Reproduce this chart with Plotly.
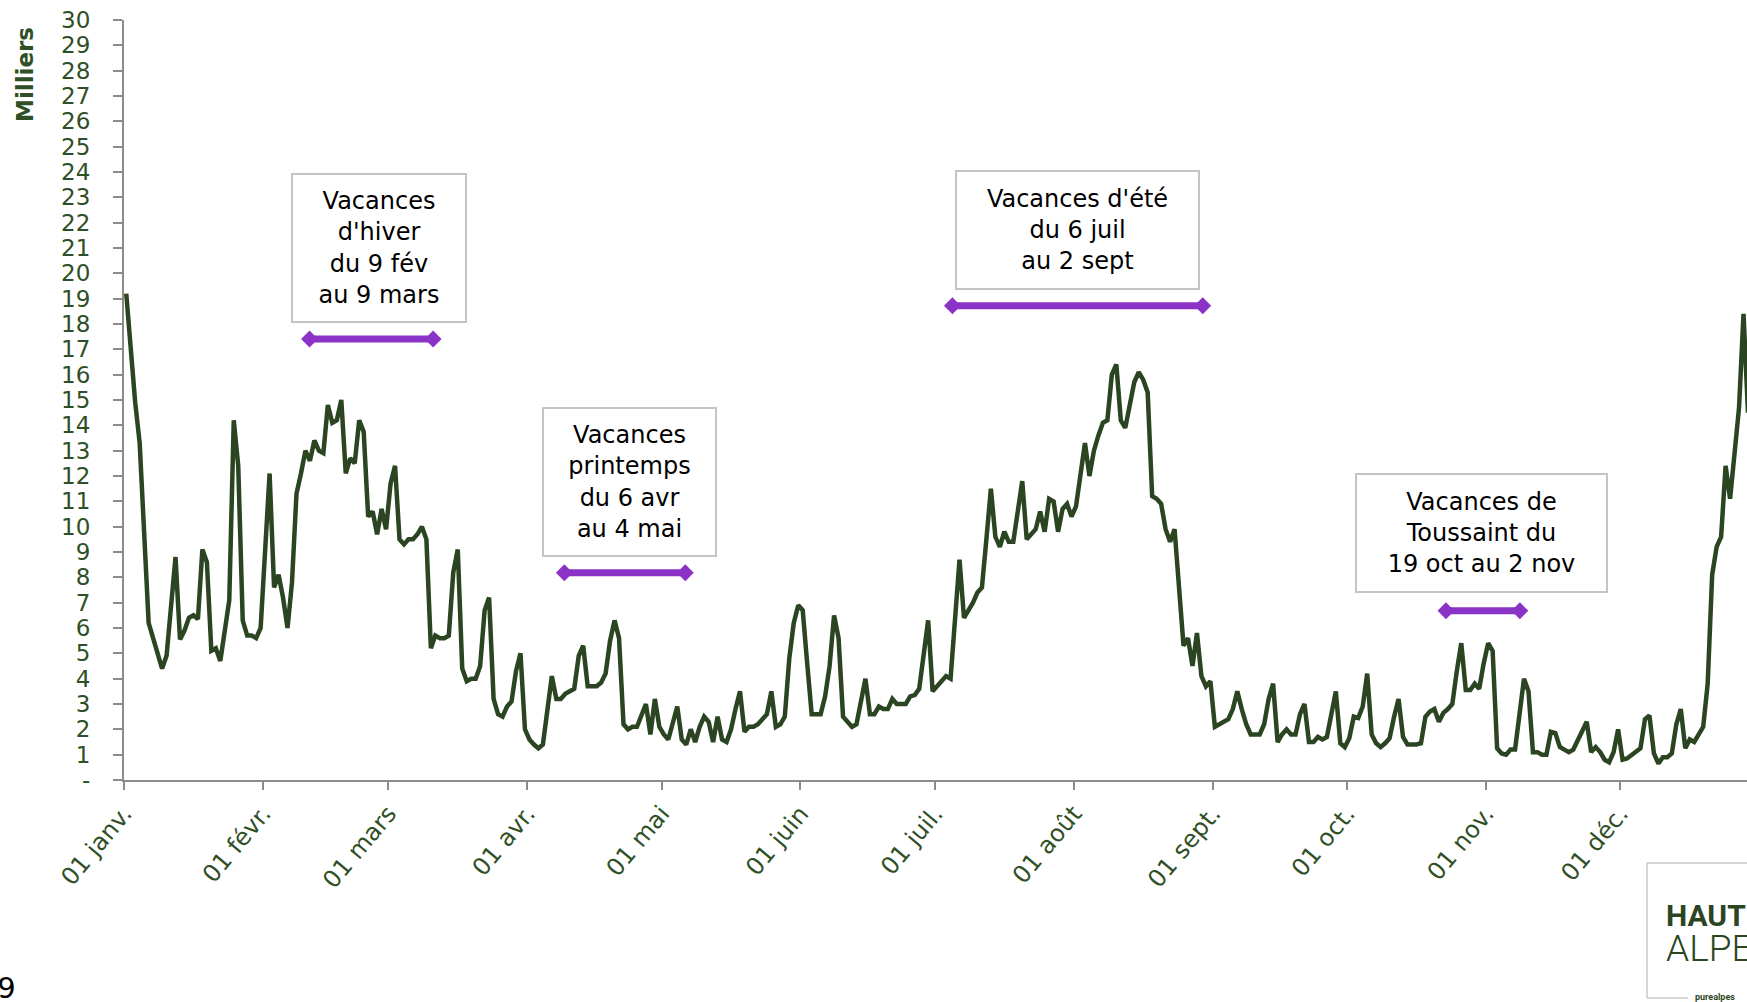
import pandas as pd
import plotly.graph_objects as go

# ---------------- data (thousands of visitors, daily 2019) ----------------
jan = [19.2, 16.9, 14.9, 13.3, 10.0, 6.2, 5.6, 5.0, 4.4, 4.9,
       6.8, 8.8, 5.55, 5.9, 6.4, 6.5, 6.35, 9.1, 8.6, 5.1,
       5.2, 4.7, 5.9, 7.1, 14.2, 12.4, 6.3, 5.7, 5.7, 5.6, 6.0]
feb = [8.9, 12.1, 7.6, 8.1, 7.2, 6.0, 7.8, 11.3, 12.1, 13.0,
       12.6, 13.4, 13.0, 12.9, 14.8, 14.1, 14.2, 15.0, 12.1, 12.7,
       12.5, 14.2, 13.75, 10.4, 10.6, 9.7, 10.7, 9.9]
mar = [11.7, 12.4, 9.5, 9.3, 9.5, 9.5, 9.7, 10.0, 9.5, 5.2,
       5.7, 5.6, 5.6, 5.7, 8.2, 9.1, 4.4, 3.9, 4.0, 4.0,
       4.5, 6.7, 7.2, 3.2, 2.6, 2.5, 2.9, 3.1, 4.3, 5.0, 2.0]
apr = [1.6, 1.4, 1.25, 1.4, 2.7, 4.1, 3.2, 3.2, 3.4, 3.5,
       3.6, 4.9, 5.3, 3.7, 3.7, 3.7, 3.85, 4.2, 5.5, 6.3,
       5.6, 2.2, 2.0, 2.1, 2.1, 2.6, 3.0, 1.8, 3.2, 2.1]
may = [1.8, 1.6, 2.3, 2.9, 1.6, 1.4, 2.0, 1.5, 2.1, 2.5,
       2.3, 1.5, 2.5, 1.6, 1.5, 2.0, 2.8, 3.5, 1.9, 2.1,
       2.1, 2.2, 2.4, 2.6, 3.5, 2.1, 2.2, 2.5, 4.8, 6.2, 6.9]
jun = [6.7, 4.6, 2.6, 2.6, 2.6, 3.3, 4.5, 6.5, 5.6, 2.5,
       2.3, 2.1, 2.2, 3.2, 4.0, 2.6, 2.6, 2.9, 2.8, 2.8,
       3.2, 3.0, 3.0, 3.0, 3.3, 3.35, 3.6, 5.0, 6.3, 3.5]
jul = [3.7, 3.9, 4.1, 4.0, 6.6, 8.7, 6.4, 6.7, 7.0, 7.4,
       7.6, 9.5, 11.5, 9.6, 9.2, 9.8, 9.4, 9.4, 10.5, 11.8,
       9.5, 9.7, 9.9, 10.6, 9.8, 11.1, 11.0, 9.8, 10.7, 10.9, 10.4]
aug = [10.8, 12.2, 13.3, 12.0, 13.0, 13.6, 14.1, 14.2, 16.0, 16.4,
       14.2, 13.9, 14.8, 15.7, 16.1, 15.8, 15.3, 11.2, 11.1, 10.9,
       9.9, 9.4, 9.9, 7.8, 5.3, 5.6, 4.5, 5.8, 4.1, 3.7, 3.9]
sep = [2.1, 2.2, 2.35, 2.4, 2.8, 3.5, 2.8, 2.2, 1.8, 1.8,
       1.8, 2.2, 3.2, 3.8, 1.5, 1.8, 2.0, 1.8, 1.8, 2.6,
       3.0, 1.5, 1.5, 1.7, 1.6, 1.7, 2.6, 3.5, 1.45, 1.3]
octo = [1.65, 2.5, 2.45, 2.9, 4.2, 1.8, 1.45, 1.3, 1.45, 1.65,
        2.5, 3.2, 1.7, 1.4, 1.4, 1.4, 1.45, 2.5, 2.7, 2.8,
        2.3, 2.65, 2.8, 3.0, 4.3, 5.4, 3.55, 3.55, 3.8, 3.6, 4.6]
nov = [5.4, 5.1, 1.25, 1.05, 1.0, 1.2, 1.2, 2.6, 4.0, 3.5,
       1.1, 1.1, 1.0, 1.0, 1.9, 1.85, 1.3, 1.2, 1.1, 1.2,
       1.6, 2.0, 2.3, 1.1, 1.3, 1.1, 0.8, 0.7, 1.1, 2.0]
dec = [0.8, 0.85, 1.0, 1.1, 1.25, 2.4, 2.55, 1.05, 0.65, 0.9,
       0.9, 1.05, 2.2, 2.8, 1.25, 1.6, 1.5, 1.8, 2.1, 3.8,
       8.1, 9.2, 9.6, 12.4, 11.1, 12.9, 14.7, 18.4, 14.5]

month_labels = ["01 janv.", "01 févr.", "01 mars", "01 avr.", "01 mai", "01 juin",
                "01 juil.", "01 août", "01 sept.", "01 oct.", "01 nov.", "01 déc."]
y_labels = ["-"] + [str(i) for i in range(1, 31)]

holiday_texts = ["Vacances<br>d'hiver<br>du 9 fév<br>au 9 mars",
                 "Vacances<br>printemps<br>du 6 avr<br>au 4 mai",
                 "Vacances d'été<br>du 6 juil<br>au 2 sept",
                 "Vacances de<br>Toussaint du<br>19 oct au 2 nov"]
arrow_start = ["2019-02-11 10:00", "2019-04-09 07:00", "2019-07-04 22:00", "2019-10-23 02:00"]
arrow_end = ["2019-03-11 00:00", "2019-05-06 07:00", "2019-08-29 19:00", "2019-11-08 14:00"]
arrow_level = [17.41, 8.18, 18.72, 6.68]

# ---------------- build ----------------
values = jan + feb + mar + apr + may + jun + jul + aug + sep + octo + nov + dec
dates = pd.date_range("2019-01-01 12:00", periods=len(values), freq="D")
month_ticks = pd.date_range("2019-01-01", "2019-12-01", freq="MS")

GREEN = "#2b4522"
LABEL = "#2f4f26"
GRAY = "#8c8c8c"
PURPLE = "#8a33c6"
FONT = "DejaVu Sans"

W, H = 1747, 1002
L, R, T, B = 124, 0, 20, 222
PW, PH = W - L - R, H - T - B


def px(x):
    return (x - L) / PW


def py(y):
    return (H - B - y) / PH


fig = go.Figure()
fig.add_trace(go.Scatter(x=dates, y=values, mode="lines",
                         line=dict(color=GREEN, width=4.5),
                         hoverinfo="x+y", showlegend=False))

for s, e, lv in zip(arrow_start, arrow_end, arrow_level):
    fig.add_trace(go.Scatter(x=[s, e], y=[lv, lv], mode="lines+markers",
                             line=dict(color=PURPLE, width=7),
                             marker=dict(symbol="diamond", size=13, color=PURPLE),
                             showlegend=False, hoverinfo="skip", cliponaxis=False))

# annotation boxes (pixel geometry)
boxes = [(378.6, 248, 174, 148), (629, 481.7, 173, 148),
         (1077.7, 229.5, 243, 118), (1481, 533, 251, 118)]
annotations = []
for text, (cx, cy, bw, bh) in zip(holiday_texts, boxes):
    annotations.append(dict(
        x=px(cx), y=py(cy), xref="paper", yref="paper", text=text,
        showarrow=False, xanchor="center", yanchor="middle",
        width=bw - 2, height=bh - 2, align="center", valign="middle",
        bordercolor="#c4c4c4", borderwidth=2, borderpad=0, bgcolor="white",
        font=dict(family=FONT, size=24, color="black")))

annotations.append(dict(x=px(25), y=py(75), xref="paper", yref="paper",
                        text="<b>Milliers</b>", textangle=-90, showarrow=False,
                        xanchor="center", yanchor="middle",
                        font=dict(family=FONT, size=23, color=LABEL)))
annotations.append(dict(x=px(18), y=py(988), xref="paper", yref="paper",
                        text="2019", showarrow=False, xanchor="right", yanchor="middle",
                        font=dict(family=FONT, size=29, color="black")))
# logo (partially outside the page, as in the source)
annotations.append(dict(x=px(1664), y=py(915), xref="paper", yref="paper",
                        text="<b>HAUTES</b>", showarrow=False, xanchor="left", yanchor="middle",
                        font=dict(family="Roboto", size=30, color=GREEN)))
annotations.append(dict(x=px(1664), y=py(948), xref="paper", yref="paper",
                        text="ALPES", showarrow=False, xanchor="left", yanchor="middle",
                        font=dict(family="Roboto", size=37, color=GREEN, weight=300)))
annotations.append(dict(x=px(1693), y=py(997), xref="paper", yref="paper",
                        text="<b>purealpes</b>", showarrow=False, xanchor="left", yanchor="middle",
                        font=dict(family="Roboto", size=9, color=GREEN)))

shapes = [
    dict(type="line", xref="paper", yref="paper", x0=px(1647), x1=px(1647),
         y0=py(863), y1=py(998), line=dict(color="#c8c8c8", width=1.5)),
    dict(type="line", xref="paper", yref="paper", x0=px(1647), x1=px(1760),
         y0=py(863), y1=py(863), line=dict(color="#c8c8c8", width=1.5)),
    dict(type="line", xref="paper", yref="paper", x0=px(1647), x1=px(1688),
         y0=py(998), y1=py(998), line=dict(color="#c8c8c8", width=1.5)),
]

fig.update_layout(
    width=W, height=H, margin=dict(l=L, r=R, t=T, b=B, autoexpand=False),
    paper_bgcolor="white", plot_bgcolor="white",
    font=dict(family=FONT, color=LABEL),
    annotations=annotations, shapes=shapes, showlegend=False,
    xaxis=dict(type="date", range=["2019-01-01", "2019-12-29 06:40"],
               tickvals=month_ticks, ticktext=month_labels, tickangle=-50,
               ticks="outside", ticklen=8, tickwidth=1.5, tickcolor=GRAY,
               showline=True, linecolor=GRAY, linewidth=2,
               showgrid=False, zeroline=False,
               tickfont=dict(family=FONT, size=24, color=LABEL)),
    yaxis=dict(range=[0, 30], tickvals=list(range(0, 31)), ticktext=y_labels,
               ticks="outside", ticklen=9, tickwidth=1.5, tickcolor=GRAY,
               showline=True, linecolor=GRAY, linewidth=2,
               showgrid=False, zeroline=False, ticklabelstandoff=18,
               tickfont=dict(family=FONT, size=23, color=LABEL)),
)

fig.write_html("out.html", include_plotlyjs=True, config={"displayModeBar": False},
               post_script="document.body.style.margin='0';document.body.style.overflow='hidden';")
